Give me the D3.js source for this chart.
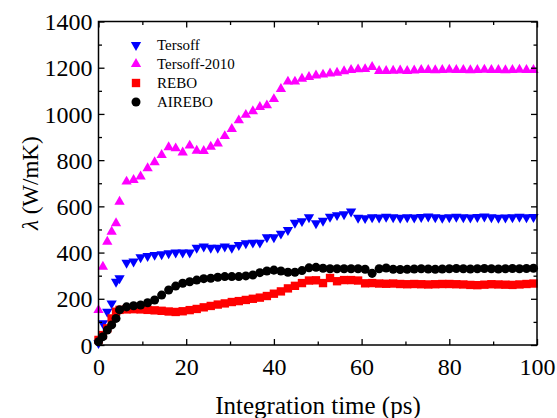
<!DOCTYPE html>
<html>
<head>
<meta charset="utf-8">
<script src="https://cdn.jsdelivr.net/npm/d3@7"></script>
<style>
  body { margin: 0; background: #fff; }
</style>
</head>
<body>
<div id="chart"></div>
<script>
// time axis (ps)
var time = [0, 1, 2, 3, 4, 4.8, 6.4, 8, 9.6, 11.2, 12.8, 14.4, 16, 17.6, 19.2, 20.8, 22.4, 24, 25.6, 27.2,
    28.8, 30.4, 32, 33.6, 35.2, 36.8, 38.4, 40, 41.6, 43.2, 44.8, 46.4, 48, 49.6, 51.2, 52.8, 54.4, 56,
    57.6, 59.2, 60.8, 62.4, 64, 65.6, 67.2, 68.8, 70.4, 72, 73.6, 75.2, 76.8, 78.4, 80, 81.6, 83.2, 84.8,
    86.4, 88, 89.6, 91.2, 92.8, 94.4, 96, 97.6, 99.2];

// thermal conductivity (W/mK)
var tersoff = [8, 94, 144, 180, 274, 289, 356, 361, 380, 385, 390, 393, 397, 400, 400, 400, 421, 426, 421, 421,
    426, 421, 433, 440, 443, 443, 466, 466, 482, 498, 529, 536, 553, 527, 538, 555, 562, 566, 578, 551, 549,
    553, 552, 555, 553, 551, 553, 552, 554, 556, 553, 551, 553, 555, 553, 552, 554, 556, 553, 551, 552, 553,
    555, 553, 554];
var tersoff2010 = [151, 339, 447, 490, 527, 620, 707, 714, 729, 765, 791, 822, 856, 851, 833, 863, 841, 840, 858,
    872, 904, 935, 972, 996, 1012, 1030, 1037, 1064, 1108, 1140, 1140, 1152, 1160, 1166, 1170, 1175, 1178,
    1185, 1190, 1193, 1194, 1203, 1186, 1186, 1187, 1188, 1186, 1188, 1190, 1190, 1189, 1190, 1191, 1190,
    1190, 1189, 1190, 1191, 1190, 1190, 1189, 1190, 1191, 1190, 1190];
var rebo = [22, 43, 72, 115, 144, 152, 154, 155, 154, 152, 150, 148, 145, 143, 146, 151, 156, 163, 169, 175,
    180, 186, 190, 195, 200, 205, 212, 222, 232, 245, 256, 268, 279, 280, 268, 290, 276, 281, 281, 279, 267,
    268, 266, 265, 266, 264, 263, 264, 263, 262, 263, 264, 264, 263, 262, 260, 259, 261, 263, 262, 261, 260,
    262, 264, 266];
var airebo = [14, 36, 65, 87, 115, 152, 165, 170, 173, 183, 195, 216, 238, 255, 267, 274, 281, 287, 289, 293,
    296, 296, 296, 299, 303, 313, 320, 324, 320, 315, 315, 322, 334, 336, 332, 330, 330, 330, 330, 330, 328,
    310, 330, 333, 328, 327, 328, 329, 330, 329, 328, 329, 330, 331, 330, 329, 330, 331, 330, 329, 330, 331,
    330, 331, 332];

var seriesNames = ["Tersoff", "Tersoff-2010", "REBO", "AIREBO"];
var xTicks = [0, 20, 40, 60, 80, 100];
var yTicks = [0, 200, 400, 600, 800, 1000, 1200, 1400];

var serif = "'Liberation Serif', 'Times New Roman', Times, serif";

// SVG area
var svgWidth = 557;
var svgHeight = 418;
var plot = { left: 98.5, right: 537, top: 21.5, bottom: 345 };

var svg = d3.select("#chart")
    .append("svg")
    .attr("width", svgWidth)
    .attr("height", svgHeight)
    .attr("font-family", serif);

// scales
var xScale = d3.scaleLinear().domain([0, 100]).range([plot.left, plot.right]);
var yScale = d3.scaleLinear().domain([0, 1400]).range([plot.bottom, plot.top]);

// series styling (legend order)
var series = [
    { name: seriesNames[0], values: tersoff, color: "#0000ff", shape: d3.symbolTriangle, size: 46, rot: 180 },
    { name: seriesNames[1], values: tersoff2010, color: "#ff00ff", shape: d3.symbolTriangle, size: 46, rot: 0 },
    { name: seriesNames[2], values: rebo, color: "#ff0000", shape: d3.symbolSquare, size: 70, rot: 0 },
    { name: seriesNames[3], values: airebo, color: "#000000", shape: d3.symbolCircle, size: 64, rot: 0 }
];

// markers
series.forEach(function(s) {
    var sym = d3.symbol().type(s.shape).size(s.size);
    svg.append("g")
        .selectAll("path")
        .data(time.map(function(t, i) { return [t, s.values[i]]; }))
        .enter()
        .append("path")
        .attr("d", sym)
        .attr("fill", s.color)
        .attr("transform", d => `translate(${xScale(d[0])},${yScale(d[1])}) rotate(${s.rot})`);
});

// axes, ticks inward on every side
function drawAxis(axisFn, scale, values, size, pos, labels) {
    var g = svg.append("g")
        .attr("transform", pos)
        .call(axisFn(scale).tickValues(values).tickSize(size).tickSizeOuter(0)
            .tickFormat(labels ? d3.format("d") : ""));
    g.attr("font-family", serif);
    g.select(".domain").remove();
    g.selectAll("line").attr("stroke", "#000").attr("stroke-width", 1.3);
    return g;
}
var xMinor = d3.range(10, 100, 20);
var yMinor = d3.range(100, 1400, 200);

var xAxis = drawAxis(d3.axisBottom, xScale, xTicks, -6, `translate(0,${plot.bottom})`, true);
drawAxis(d3.axisBottom, xScale, xMinor, -3.5, `translate(0,${plot.bottom})`, false);
drawAxis(d3.axisTop, xScale, xTicks, -6, `translate(0,${plot.top})`, false);
drawAxis(d3.axisTop, xScale, xMinor, -3.5, `translate(0,${plot.top})`, false);
var yAxis = drawAxis(d3.axisLeft, yScale, yTicks, -6, `translate(${plot.left},0)`, true);
drawAxis(d3.axisLeft, yScale, yMinor, -3.5, `translate(${plot.left},0)`, false);
drawAxis(d3.axisRight, yScale, yTicks, -6, `translate(${plot.right},0)`, false);
drawAxis(d3.axisRight, yScale, yMinor, -3.5, `translate(${plot.right},0)`, false);

xAxis.selectAll("text")
    .attr("font-family", serif)
    .attr("font-size", 24)
    .attr("fill", "#000")
    .attr("y", 13)
    .attr("dy", "0.71em");
yAxis.selectAll("text")
    .attr("font-family", serif)
    .attr("font-size", 24)
    .attr("fill", "#000")
    .attr("x", -6)
    .attr("dy", "0.34em");

// frame
svg.append("rect")
    .attr("x", plot.left)
    .attr("y", plot.top)
    .attr("width", plot.right - plot.left)
    .attr("height", plot.bottom - plot.top)
    .attr("fill", "none")
    .attr("stroke", "#000")
    .attr("stroke-width", 1.5);

// axis titles
svg.append("text")
    .attr("x", 318)
    .attr("y", 414)
    .attr("text-anchor", "middle")
    .attr("font-family", serif)
    .attr("font-size", 25)
    .text("Integration time (ps)");

var yTitle = svg.append("text")
    .attr("transform", `translate(38,${(plot.top + plot.bottom) / 2}) rotate(-90)`)
    .attr("text-anchor", "middle")
    .attr("font-family", serif)
    .attr("font-size", 23);
yTitle.append("tspan").attr("font-style", "italic").text("λ");
yTitle.append("tspan").text(" (W/mK)");

// legend
var legend = svg.append("g");
series.forEach(function(s, i) {
    var y = 45 + i * 19;
    legend.append("path")
        .attr("d", d3.symbol().type(s.shape).size(s.size))
        .attr("fill", s.color)
        .attr("transform", `translate(136,${y}) rotate(${s.rot})`);
    legend.append("text")
        .attr("x", 157)
        .attr("y", y)
        .attr("dy", "0.35em")
        .attr("font-family", serif)
        .attr("font-size", 15)
        .text(s.name);
});
</script>
</body>
</html>
